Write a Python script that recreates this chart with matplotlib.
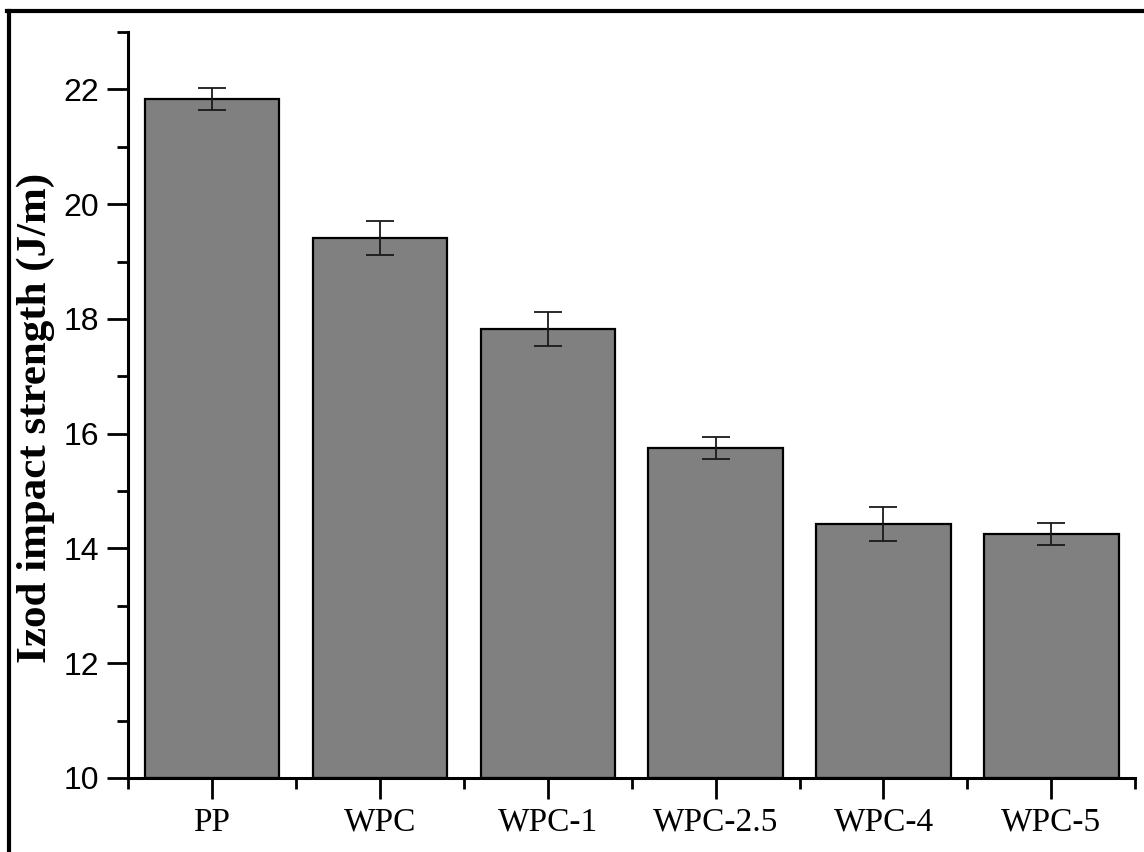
import matplotlib
matplotlib.use("Agg")
import matplotlib.pyplot as plt
from matplotlib.lines import Line2D
from matplotlib.ticker import MultipleLocator, FixedLocator

# Izod impact strength per sample
samples = ["PP", "WPC", "WPC-1", "WPC-2.5", "WPC-4", "WPC-5"]
strength = [21.83, 19.41, 17.82, 15.75, 14.43, 14.25]
strength_err = [0.19, 0.30, 0.30, 0.19, 0.30, 0.19]

fig = plt.figure(figsize=(11.44, 8.52), dpi=100)
fig.patch.set_facecolor("white")
ax = fig.add_axes([0.1119, 0.0869, 0.8805, 0.8755])

pos = list(range(1, len(samples) + 1))
ax.bar(pos, [v - 10 for v in strength], bottom=10, width=0.8,
       color="#808080", edgecolor="black", linewidth=1.6, zorder=2)
ax.errorbar(pos, strength, yerr=strength_err, fmt="none", ecolor="#1a1a1a",
            elinewidth=1.3, capsize=10, capthick=1.3, zorder=3)

ax.set_xlim(0.5, 6.5)
ax.set_ylim(10, 23)

ax.yaxis.set_major_locator(FixedLocator([10, 12, 14, 16, 18, 20, 22]))
ax.yaxis.set_minor_locator(MultipleLocator(1))
ax.xaxis.set_major_locator(FixedLocator(pos))
ax.xaxis.set_minor_locator(FixedLocator([p + 0.5 for p in range(0, 7)]))

ax.set_xticklabels(samples, family="Liberation Serif", fontsize=24)
for lbl in ax.get_yticklabels():
    lbl.set_family("Liberation Sans")
    lbl.set_fontsize(23)

ax.tick_params(axis="both", which="major", length=15, width=2, direction="out", pad=6)
ax.tick_params(axis="both", which="minor", length=8, width=2, direction="out")

for side in ["top", "right"]:
    ax.spines[side].set_visible(False)
for side in ["left", "bottom"]:
    ax.spines[side].set_linewidth(2.2)

ax.set_ylabel("Izod impact strength (J/m)", family="Liberation Serif",
              fontweight="bold", fontsize=31)
ax.yaxis.set_label_coords(-0.072, 0.483)

# frame edges left over from the page crop
fig.add_artist(Line2D([0.0065, 1.0], [0.9875, 0.9875], color="black", lw=3,
                      transform=fig.transFigure))
fig.add_artist(Line2D([0.0075, 0.0075], [0.0, 0.9875], color="black", lw=3,
                      transform=fig.transFigure))

fig.savefig("out.png", dpi=100, facecolor="white")
